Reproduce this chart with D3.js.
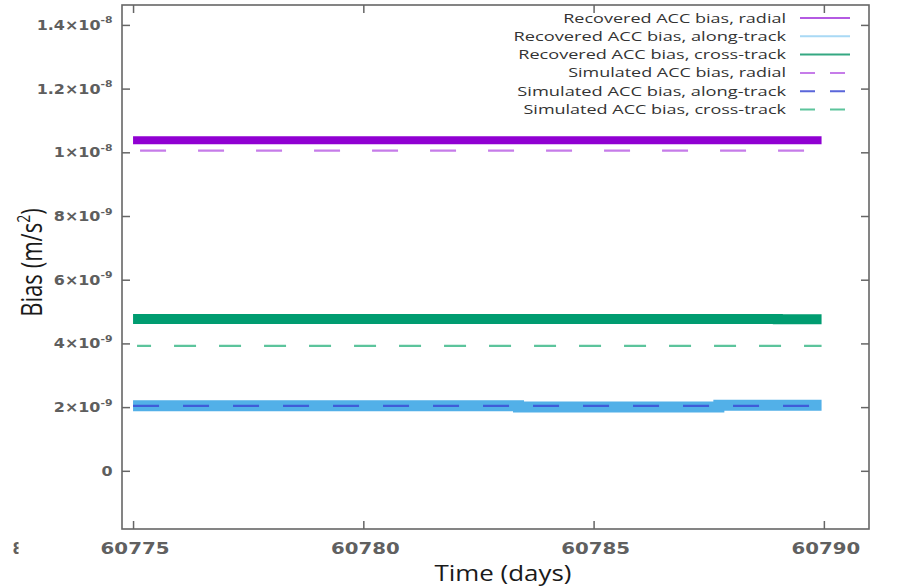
<!DOCTYPE html>
<html><head><meta charset="utf-8">
<script src="https://cdn.jsdelivr.net/npm/d3@7"></script>
<style>body{margin:0;background:#fff}</style>
</head><body><svg id="c" width="899" height="588"></svg>
<script>
// ---- data ----
const recTime   = [60775, 60777, 60779, 60781, 60783.37, 60785, 60787.72, 60789, 60789.95];
const recRadial = [10.38e-9, 10.38e-9, 10.38e-9, 10.38e-9, 10.38e-9, 10.38e-9, 10.38e-9, 10.38e-9, 10.38e-9];
const recAlong  = [2.04e-9, 2.04e-9, 2.04e-9, 2.04e-9, 2.0e-9, 2.0e-9, 2.06e-9, 2.06e-9, 2.06e-9];
const recCross  = [4.77e-9, 4.77e-9, 4.77e-9, 4.77e-9, 4.77e-9, 4.77e-9, 4.77e-9, 4.76e-9, 4.76e-9];
const simTime   = [60775, 60789.95];
const simRadial = [10.05e-9, 10.05e-9];
const simAlong  = [2.04e-9, 2.04e-9];
const simCross  = [3.92e-9, 3.92e-9];
const xTicks = [60775, 60780, 60785, 60790];
const yTicks = [0, 2e-9, 4e-9, 6e-9, 8e-9, 1e-8, 1.2e-8, 1.4e-8];
const yTickMant = ["0", "2", "4", "6", "8", "1", "1.2", "1.4"];
const yTickExp  = ["", "-9", "-9", "-9", "-9", "-8", "-8", "-8"];
const legendLabels = ["Recovered ACC bias, radial", "Recovered ACC bias, along-track", "Recovered ACC bias, cross-track",
                      "Simulated ACC bias, radial", "Simulated ACC bias, along-track", "Simulated ACC bias, cross-track"];

// ---- styles ----
const legendWidths = [223, 273, 268, 218, 269, 263];
const series = [
  {t: recTime, v: recRadial, color: "#9000d2", w: 8, dash: null, step: true, lc: "#b45ae2"},
  {t: recTime, v: recAlong,  color: "#52b0e8", w: 11, dash: null, step: true, lc: "#a9d9f5"},
  {t: recTime, v: recCross,  color: "#009c70", w: 10, dash: null, step: true, lc: "#35a882"},
  {t: simTime, v: simRadial, color: "#c67ce9", w: 2.2, dash: "0,7,26,25", step: false, lc: "#c67ce9"},
  {t: simTime, v: simAlong,  color: "#3f5cd8", w: 2.2, dash: "26,24", step: false, lc: "#5a66da"},
  {t: simTime, v: simCross,  color: "#5cc49c", w: 2.2, dash: "0,4,14,23,22,23,22,23,22,23,22,23,22,23,22,23,22,23,22,23,22,23,22,23,22,23,22,23,22,23,22,23,22,23,22,23", step: false, lc: "#5cc49c"}
];

const svg = d3.select("#c");
const X0 = 122, X1 = 869, Y0 = 5, Y1 = 529;
const x = d3.scaleLinear().domain([60774.76, 60790.98]).range([X0, X1]);
const y = d3.scaleLinear().domain([-1.827e-9, 14.625e-9]).range([Y1, Y0]);

// data lines
series.forEach(s => {
  const line = d3.line().x((d, i) => x(s.t[i])).y(d => y(d));
  if (s.step) line.curve(d3.curveStepAfter);
  svg.append("path").attr("d", line(s.v)).attr("fill", "none")
    .attr("stroke", s.color).attr("stroke-width", s.w)
    .attr("stroke-dasharray", s.dash);
});

// axes (inward ticks, mirrored)
const axCol = "#666";
function styleAxis(g) { g.selectAll("path").remove(); g.selectAll("text").remove();
  g.selectAll("line").attr("stroke", axCol).attr("stroke-width", 1.5); }
svg.append("g").attr("transform", `translate(${X0},0)`).call(d3.axisLeft(y).tickValues(yTicks).tickSize(-8)).call(styleAxis);
svg.append("g").attr("transform", `translate(${X1},0)`).call(d3.axisRight(y).tickValues(yTicks).tickSize(-8)).call(styleAxis);
svg.append("g").attr("transform", `translate(0,${Y1})`).call(d3.axisBottom(x).tickValues(xTicks).tickSize(-8)).call(styleAxis);
svg.append("g").attr("transform", `translate(0,${Y0})`).call(d3.axisTop(x).tickValues(xTicks).tickSize(-8)).call(styleAxis);
svg.append("rect").attr("x", X0).attr("y", Y0).attr("width", X1 - X0).attr("height", Y1 - Y0)
  .attr("fill", "none").attr("stroke", axCol).attr("stroke-width", 1.6);

// y tick labels
const yl = svg.append("g");
yTicks.forEach((v, i) => {
  const t = yl.append("text").attr("text-anchor", "end")
    .attr("font-family", "DejaVu Sans").attr("font-weight", "bold").attr("font-size", 14)
    .attr("fill", "#5e5e5e");
  if (yTickExp[i]) {
    t.append("tspan").text(yTickMant[i] + "\u00d710");
    t.append("tspan").attr("font-size", 9.5).attr("dy", -6.5).text(yTickExp[i]);
  } else t.text(yTickMant[i]);
  t.attr("transform", `translate(112.5,${y(v) + 5}) scale(1.14,1)`);
});

// x tick labels
xTicks.forEach(v => {
  const t = svg.append("text").attr("text-anchor", "middle")
    .attr("font-family", "DejaVu Sans").attr("font-weight", "bold").attr("font-size", 15.5)
    .attr("fill", "#606060").text(v);
  const w = t.node().getBBox().width;
  t.attr("transform", `translate(${x(v) + 2},554) scale(${69 / w},1)`);
});

// stray clipped glyph at left
svg.append("clipPath").attr("id", "clipL").append("rect").attr("x", 0).attr("y", 530).attr("width", 18.5).attr("height", 40);
svg.append("text").attr("clip-path", "url(#clipL)").attr("x", 12.5).attr("y", 554)
  .attr("font-family", "DejaVu Sans").attr("font-weight", "bold").attr("font-size", 15.5)
  .attr("fill", "#606060").text("8");

// axis titles
const xt = svg.append("text").attr("font-family", "Open Sans").attr("font-size", 22)
  .attr("fill", "#1a1a1a").text("Time (days)");
{ const w = xt.node().getBBox().width; xt.attr("transform", `translate(434.5,581) scale(${137 / w},1)`); }

const ytG = svg.append("g");
const yt = ytG.append("text").attr("font-family", "Open Sans").attr("font-size", 21)
  .attr("fill", "#1a1a1a").attr("text-anchor", "middle");
yt.append("tspan").text("Bias (m/s");
yt.append("tspan").attr("font-size", 14).attr("dy", -9).text("2");
yt.append("tspan").attr("dy", 9).text(")");
{ const w = yt.node().getBBox().width; yt.attr("font-size", 21 * 109 / w);
  ytG.attr("transform", `translate(42,262.5) scale(1.3,1) rotate(-90)`); }

// legend
legendLabels.forEach((lab, i) => {
  const by = 22.5 + i * 18.3;
  const t = svg.append("text").attr("text-anchor", "end").attr("font-family", "Open Sans")
    .attr("font-size", 13).attr("fill", "#333").text(lab);
  const w = t.node().getBBox().width;
  t.attr("transform", `translate(786,${by}) scale(${legendWidths[i] / w},1)`);
  const s = series[i];
  svg.append("line").attr("x1", 800).attr("x2", 850).attr("y1", by - 4.5).attr("y2", by - 4.5)
    .attr("stroke", s.lc).attr("stroke-width", 2)
    .attr("stroke-dasharray", s.dash ? "15,15" : null);
});
</script></body></html>
